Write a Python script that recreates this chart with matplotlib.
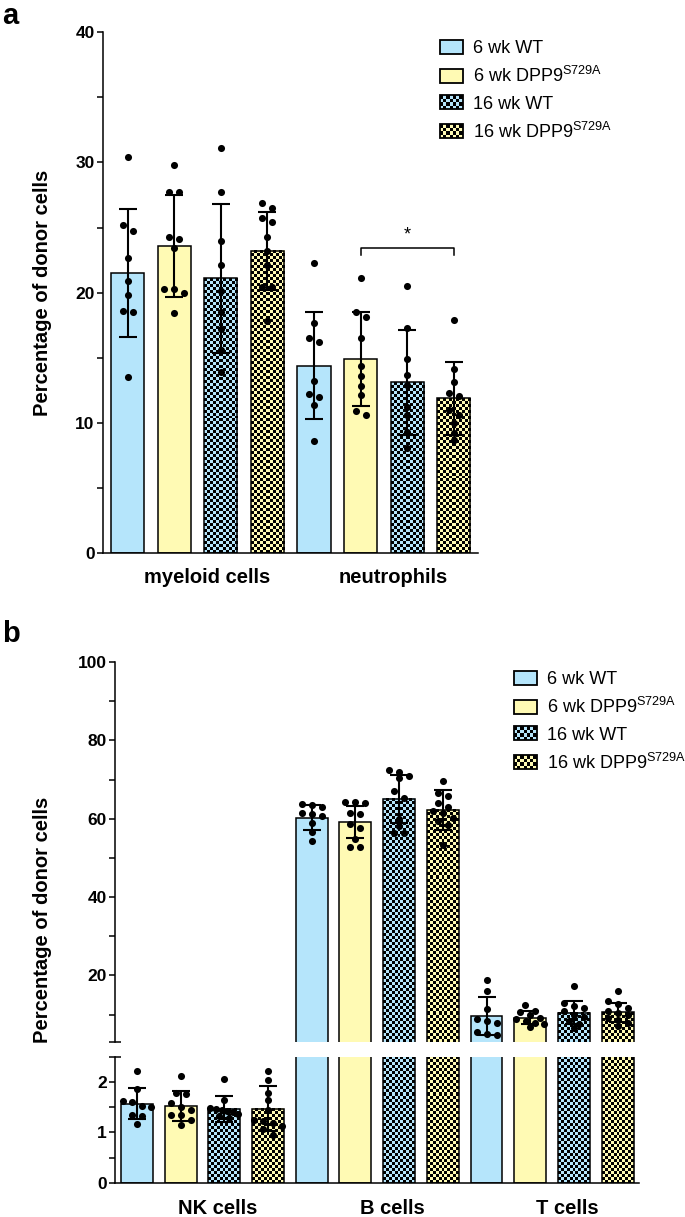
"""
Donor cell percentages, panels a and b (bar + dots, broken axis in b)
"""
import numpy as np
import matplotlib
matplotlib.use("Agg")
import matplotlib.pyplot as plt
from matplotlib.patches import Rectangle
from matplotlib.colors import ListedColormap
from matplotlib.legend_handler import HandlerBase
from matplotlib import font_manager

# ---- data -------------------------------------------------------------
groups = ["6 wk WT", r"6 wk DPP9$^{\mathrm{S729A}}$",
          "16 wk WT", r"16 wk DPP9$^{\mathrm{S729A}}$"]

cells_a = ["myeloid cells", "neutrophils"]
myeloid_mean = [21.5, 23.6, 21.1, 23.2]
myeloid_sd = [4.9, 3.9, 5.7, 3.0]
myeloid_pts = [
    [30.4, 25.2, 24.7, 22.7, 20.9, 19.8, 18.6, 18.5, 13.5],
    [29.8, 27.7, 27.7, 24.3, 24.1, 23.4, 20.3, 20.3, 20.0, 18.4],
    [31.1, 27.7, 24.0, 22.1, 20.1, 18.5, 17.2, 15.6, 13.9],
    [26.9, 26.5, 25.7, 25.4, 24.3, 23.2, 22.1, 20.4, 20.4, 17.8],
]
neutro_mean = [14.4, 14.9, 13.1, 11.9]
neutro_sd = [4.1, 3.6, 4.05, 2.8]
neutro_pts = [
    [22.3, 17.7, 16.5, 16.2, 13.2, 12.2, 12.0, 11.4, 8.6],
    [21.1, 18.5, 18.15, 16.5, 14.4, 13.6, 12.8, 12.1, 10.9, 10.6],
    [20.5, 17.3, 14.9, 13.7, 12.9, 11.25, 10.6, 9.3, 8.05],
    [17.9, 14.15, 13.1, 12.3, 12.05, 11.0, 10.6, 10.0, 9.25, 8.7],
]

cells_b = ["NK cells", "B cells", "T cells"]
nk_mean = [1.57, 1.52, 1.47, 1.47]
nk_sd = [0.31, 0.30, 0.26, 0.45]
nk_pts = [
    [2.22, 1.86, 1.63, 1.61, 1.52, 1.50, 1.35, 1.33, 1.16],
    [2.12, 1.78, 1.77, 1.50, 1.58, 1.45, 1.35, 1.34, 1.25, 1.14],
    [2.05, 1.65, 1.48, 1.46, 1.44, 1.42, 1.40, 1.36, 1.32, 1.28],
    [2.21, 2.03, 1.79, 1.64, 1.45, 1.25, 1.22, 1.18, 1.12, 1.06, 0.95],
]
bc_mean = [60.3, 59.2, 65.1, 62.3]
bc_sd = [3.1, 4.1, 6.1, 5.1]
bc_pts = [
    [63.8, 63.6, 63.0, 61.5, 61.3, 60.8, 58.9, 56.5, 54.2],
    [64.3, 64.2, 64.0, 61.5, 61.3, 58.7, 57.5, 54.8, 52.9, 52.9],
    [72.5, 72.0, 71.0, 70.4, 67.0, 65.3, 60.0, 58.2, 56.4, 56.4],
    [69.5, 66.5, 65.8, 64.0, 63.1, 62.0, 61.5, 60.3, 59.3, 58.3, 53.4],
]
tc_mean = [9.6, 9.2, 10.5, 10.6]
tc_sd = [4.9, 1.6, 3.0, 2.4]
tc_pts = [
    [18.7, 16.0, 11.3, 8.9, 8.4, 7.9, 5.6, 5.0, 4.8],
    [12.5, 11.0, 10.6, 10.0, 9.2, 8.8, 8.4, 7.9, 7.5, 6.9],
    [17.3, 13.0, 12.3, 11.6, 10.8, 10.0, 9.4, 8.4, 7.5, 6.6],
    [16.0, 13.5, 12.6, 11.8, 11.0, 10.4, 9.8, 9.0, 8.5, 7.8, 7.0],
]

# ---- style ------------------------------------------------------------
BLUE = "#b5e5fb"
YELLOW = "#fffab4"
face = [BLUE, YELLOW, BLUE, YELLOW]
checkered = [False, False, True, True]

plt.rcParams["font.family"] = ["Liberation Sans", "DejaVu Sans"]
plt.rcParams["mathtext.fontset"] = "custom"
plt.rcParams["mathtext.rm"] = "Liberation Sans"
plt.rcParams["mathtext.it"] = "Liberation Sans:italic"
plt.rcParams["mathtext.bf"] = "Liberation Sans:bold"

names = {f.name for f in font_manager.fontManager.ttflist}
TICK_FONT = "Liberation Sans Narrow" if "Liberation Sans Narrow" in names else "Liberation Sans"

W_PX, H_PX = 685, 1217
LW = 1.1
fig = plt.figure(figsize=(W_PX / 100, H_PX / 100), dpi=100)


def px_axes(left, top, right, bottom):
    return fig.add_axes([left / W_PX, 1 - bottom / H_PX,
                         (right - left) / W_PX, (bottom - top) / H_PX])


def scale(ax):
    bb = ax.get_position()
    x0, x1 = ax.get_xlim()
    y0, y1 = ax.get_ylim()
    return (bb.width * W_PX / (x1 - x0), bb.height * H_PX / (y1 - y0))


def checker(ax, x0, w, h, color, cell=3.0):
    # checkerboard image covering exactly the bar; axes clipping does the rest
    ppx, ppy = scale(ax)
    nx = max(1, int(round(w * ppx / cell)))
    ny = max(1, int(round(h * ppy / cell)))
    arr = np.add.outer(np.arange(ny), np.arange(nx)) % 2
    ax.imshow(arr, cmap=ListedColormap([color, "black"]),
              extent=(x0, x0 + w, 0, h), origin="lower",
              aspect="auto", interpolation="nearest", zorder=1.5)


def swarm(vals, ppx, ppy, thr=7.0, step=10.0):
    # points at similar height share a row, spread symmetrically
    vals = np.asarray(vals)
    offs = np.zeros(len(vals))
    rows = []
    for idx in np.argsort(-vals, kind="stable"):
        y = vals[idx] * ppy
        if rows and abs(rows[-1][0] - y) < thr:
            rows[-1][1].append(idx)
        else:
            rows.append([y, [idx]])
    for _, members in rows:
        n = len(members)
        st = step if n < 4 else min(step, 28.0 / (n - 1))
        for k, idx in enumerate(members):
            offs[idx] = (k - (n - 1) / 2) * st / ppx
    return offs


def draw_bars(ax, means, sds, pts, width):
    ppx, ppy = scale(ax)
    ylo = ax.get_ylim()[0]
    for i, (m, s, p) in enumerate(zip(means, sds, pts)):
        if m + s < ylo and max(p) < ylo:
            continue
        g = i % 4
        ax.bar(i, m, width, color=face[g], edgecolor="none", zorder=1)
        if checkered[g]:
            checker(ax, i - width / 2, width, m, face[g])
        ax.bar(i, m, width, fill=False, edgecolor="black", lw=LW, zorder=2)
        ax.errorbar(i, m, yerr=s, color="black", lw=1.5, capsize=6.5,
                    capthick=1.5, zorder=3)
        ax.scatter(i + swarm(p, ppx, ppy), p, s=26, color="black", lw=0, zorder=4)


def style_axis(ax, major, minor):
    for sp in ["top", "right"]:
        ax.spines[sp].set_visible(False)
    ax.spines["left"].set_linewidth(LW)
    ax.spines["bottom"].set_linewidth(LW)
    ax.set_xticks([])
    ax.set_yticks(major, labels=[f"{t:g}" for t in major], fontfamily=TICK_FONT,
                  fontweight="bold", fontsize=12.5)
    ax.set_yticks(minor, minor=True)
    ax.tick_params(axis="y", which="both", length=4, width=LW, pad=2)


class CheckerHandler(HandlerBase):
    def __init__(self, color, check):
        super().__init__()
        self.color = color
        self.check = check

    def create_artists(self, legend, orig_handle, xdescent, ydescent,
                       width, height, fontsize, trans):
        arts = []
        if self.check:
            nx, ny = 7, 4
            cw, ch = width / nx, height / ny
            for a in range(nx):
                for b in range(ny):
                    c = "black" if (a + b) % 2 else self.color
                    arts.append(Rectangle((-xdescent + a * cw, -ydescent + b * ch), cw, ch,
                                          facecolor=c, edgecolor="none", transform=trans))
        else:
            arts.append(Rectangle((-xdescent, -ydescent), width, height,
                                  facecolor=self.color, edgecolor="none", transform=trans))
        arts.append(Rectangle((-xdescent, -ydescent), width, height, fill=False,
                              edgecolor="black", lw=1.3, transform=trans))
        return arts


def add_legend(left_px, top_px):
    handles = [Rectangle((0, 0), 1, 1) for _ in groups]
    hmap = {h: CheckerHandler(face[g], checkered[g]) for g, h in enumerate(handles)}
    fig.legend(handles, groups, handler_map=hmap, loc="upper left",
               bbox_to_anchor=(left_px / W_PX, 1 - top_px / H_PX),
               bbox_transform=fig.transFigure, frameon=False, fontsize=13,
               handlelength=1.25, handleheight=0.8, handletextpad=0.6,
               labelspacing=0.5, borderpad=0, borderaxespad=0)


# ---- panel a ----------------------------------------------------------
ax_a = px_axes(103, 32.3, 478, 553)
ax_a.set_xlim(-0.53, 7.52)
ax_a.set_ylim(0, 40)
draw_bars(ax_a, myeloid_mean + neutro_mean, myeloid_sd + neutro_sd,
          myeloid_pts + neutro_pts, 0.71)
ax_a.set_xlim(-0.53, 7.52)
ax_a.set_ylim(0, 40)
style_axis(ax_a, [0, 10, 20, 30, 40], [5, 15, 25, 35])
ax_a.plot([5, 5, 7, 7], [22.9, 23.4, 23.4, 22.9], color="black", lw=LW)
ax_a.text(6, 23.8, "*", ha="center", va="bottom", fontsize=13)
for k, name in enumerate(cells_a):
    ax_a.text(4 * k + 1.5 + 0.2, -0.048, name, transform=ax_a.get_xaxis_transform(),
              ha="center", va="center", fontsize=14.5, fontweight="bold")
add_legend(440, 40)
fig.text(43 / W_PX, 1 - 293 / H_PX, "Percentage of donor cells", rotation=90,
         ha="center", va="center", fontsize=14.5, fontweight="bold")
fig.text(2 / W_PX, 1 - 2 / H_PX, "a", ha="left", va="top", fontsize=21, fontweight="bold")

# ---- panel b (broken y axis) -----------------------------------------
ax_hi = px_axes(115, 662, 639, 1042)
ax_lo = px_axes(115, 1056.7, 639, 1183)
b_means = nk_mean + bc_mean + tc_mean
b_sds = nk_sd + bc_sd + tc_sd
b_pts = nk_pts + bc_pts + tc_pts
for ax, lim in [(ax_hi, (3, 100)), (ax_lo, (0, 2.5))]:
    ax.set_xlim(-0.503, 11.49)
    ax.set_ylim(*lim)
    draw_bars(ax, b_means, b_sds, b_pts, 0.73)
    ax.set_xlim(-0.503, 11.49)
    ax.set_ylim(*lim)
style_axis(ax_hi, [20, 40, 60, 80, 100], [10, 30, 50, 70, 90])
ax_hi.spines["bottom"].set_visible(False)
style_axis(ax_lo, [0, 1, 2], [0.5, 1.5])
ax_hi.plot([0], [0], marker="_", ms=8, mew=LW, color="black",
           transform=ax_hi.transAxes, clip_on=False)
ax_lo.plot([0], [1], marker="_", ms=8, mew=LW, color="black",
           transform=ax_lo.transAxes, clip_on=False)
for k, name in enumerate(cells_b):
    ax_lo.text(4 * k + 1.5 + 0.35, -0.198, name, transform=ax_lo.get_xaxis_transform(),
               ha="center", va="center", fontsize=14.5, fontweight="bold")
add_legend(514, 671)
fig.text(43 / W_PX, 1 - 920 / H_PX, "Percentage of donor cells", rotation=90,
         ha="center", va="center", fontsize=14.5, fontweight="bold")
fig.text(2 / W_PX, 1 - 620 / H_PX, "b", ha="left", va="top", fontsize=21, fontweight="bold")

fig.savefig("out.png", dpi=100)
